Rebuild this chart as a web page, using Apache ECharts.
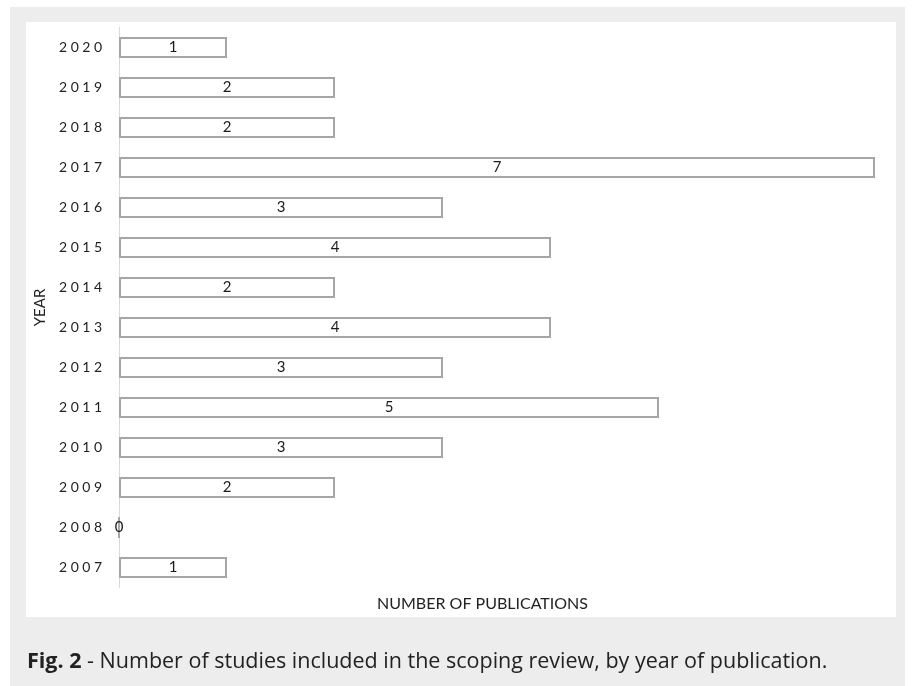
<!DOCTYPE html>
<html>
<head>
<meta charset="utf-8">
<script src="https://cdn.jsdelivr.net/npm/echarts@6/dist/echarts.min.js"></script>
<style>
  html, body { margin: 0; padding: 0; background: #ffffff; }
  #chart { width: 914px; height: 686px; }
</style>
</head>
<body>
<div id="chart"></div>
<script>
// Publications per year (top of chart = most recent year)
const years = ['2020','2019','2018','2017','2016','2015','2014','2013','2012','2011','2010','2009','2008','2007'];
const counts = [1, 2, 2, 7, 3, 4, 2, 4, 3, 5, 3, 2, 0, 1];

// Year labels are drawn with a little tracking between digits
const spaced = s => s.split('').join('\u2005');

const chart = echarts.init(document.getElementById('chart'));
chart.setOption({
  animation: false,
  textStyle: { fontFamily: 'Lato, "Open Sans", sans-serif' },
  graphic: [
    { type: 'rect', z: -10, shape: { x: 10, y: 7, width: 895, height: 679 }, style: { fill: '#ededed' } },
    { type: 'rect', z: -9, shape: { x: 26, y: 22, width: 870, height: 595 }, style: { fill: '#ffffff' } },
    {
      type: 'text', z: 5, x: 27, y: 662,
      style: {
        text: '{b|Fig. 2} - Number of studies included in the scoping review, by year of publication.',
        fontFamily: '"Open Sans", sans-serif', fontSize: 21.5, fill: '#222222',
        verticalAlign: 'middle',
        rich: { b: { fontWeight: 'bold', fontSize: 21.5, fontFamily: '"Open Sans", sans-serif', fill: '#222222' } }
      }
    }
  ],
  grid: { left: 119, right: 39, top: 27.5, bottom: 98.5, containLabel: false },
  xAxis: {
    type: 'value', min: 0, max: 7,
    name: 'NUMBER OF PUBLICATIONS', nameLocation: 'middle', nameGap: 8,
    nameTextStyle: { fontSize: 16, color: '#222', padding: [0, 29, 0, 0] },
    axisLine: { show: false }, axisTick: { show: false }, axisLabel: { show: false },
    splitLine: { show: false }
  },
  yAxis: {
    type: 'category', data: years, inverse: true,
    name: 'YEAR', nameLocation: 'middle', nameGap: 70, nameRotate: 90,
    nameTextStyle: { fontSize: 15, color: '#222' },
    axisLine: { show: true, lineStyle: { color: '#d9d9d9', width: 1 } },
    axisTick: { show: false },
    axisLabel: { fontSize: 14, color: '#222', margin: 17, formatter: v => spaced(v) }
  },
  series: [{
    type: 'bar', data: counts, barWidth: 21,
    itemStyle: { color: '#ffffff', borderColor: '#a6a6a6', borderWidth: 2 },
    label: { show: true, position: 'inside', fontSize: 15, color: '#1a1a1a' }
  }]
});
</script>
</body>
</html>
